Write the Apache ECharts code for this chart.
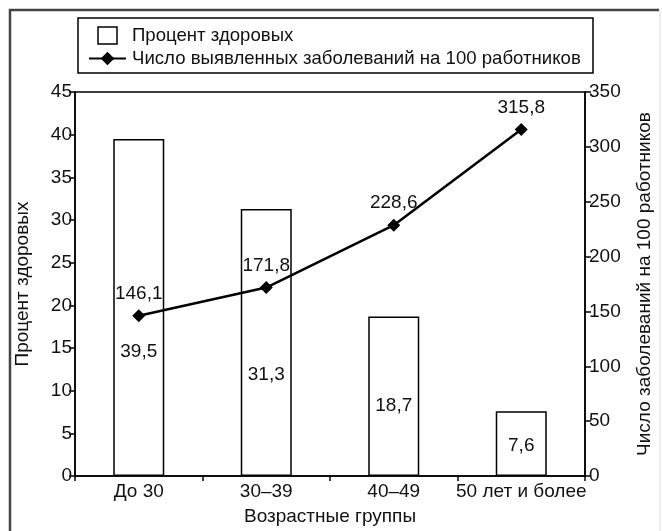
<!DOCTYPE html>
<html>
<head>
<meta charset="utf-8">
<script src="https://cdn.jsdelivr.net/npm/echarts@6/dist/echarts.min.js"></script>
<style>
  html, body { margin: 0; padding: 0; background: #fff; }
  #chart { width: 662px; height: 531px; }
</style>
</head>
<body>
<div id="chart"></div>
<script>
// Age groups and the two measured indicators
const ageGroups = ['До 30', '30–39', '40–49', '50 лет и более'];
const healthyShare = [39.5, 31.3, 18.7, 7.6];          // % healthy (left axis)
const diseasesPer100 = [146.1, 171.8, 228.6, 315.8];   // cases per 100 workers (right axis)

const barName = 'Процент здоровых';
const lineName = 'Число выявленных заболеваний на 100 работников';
const xName = 'Возрастные группы';
const leftName = 'Процент здоровых';
const rightName = 'Число заболеваний на 100 работников';

// vertical placement of the value labels inside each bar (share of bar height)
const barLabelY = ['63%', '62%', '56%', '54%'];

const FONT = '"Liberation Sans", Arial, sans-serif';
const FS = 19;
const INK = '#111';
const fmt = v => v.toFixed(1).replace('.', ',');

const chart = echarts.init(document.getElementById('chart'), null, { renderer: 'canvas' });

const axisCommon = {
  axisLine: { show: true, lineStyle: { color: '#000', width: 1.5 } },
  axisTick: { show: true, inside: false, length: 6, lineStyle: { color: '#000', width: 1.5 } },
  axisLabel: { color: INK, fontFamily: FONT, fontSize: FS, margin: 3 },
  splitLine: { show: false },
  nameTextStyle: { color: INK, fontFamily: FONT, fontSize: FS }
};

chart.setOption({
  animation: false,
  backgroundColor: '#fff',
  grid: {
    left: 75, right: 77, top: 92, bottom: 53,
    show: true, borderColor: '#000', borderWidth: 1.5, backgroundColor: 'transparent'
  },
  graphic: [
    // outer frame (left and top edges drawn strong, right edge faint)
    { type: 'polyline', z: 100, shape: { points: [[10, 531], [10, 10], [659, 10]] },
      style: { stroke: '#444', lineWidth: 2.5, fill: null } },
    { type: 'line', z: 100, shape: { x1: 660, y1: 10, x2: 660, y2: 531 },
      style: { stroke: '#ddd', lineWidth: 1 } },
    // legend box
    { type: 'rect', z: 100, shape: { x: 78, y: 18, width: 515, height: 55 },
      style: { stroke: '#000', lineWidth: 1.5, fill: null } }
  ],
  legend: {
    orient: 'vertical',
    left: 88, top: 26,
    itemWidth: 37, itemHeight: 17, itemGap: 4,
    padding: 0,
    selectedMode: false,
    textStyle: { color: INK, fontFamily: FONT, fontSize: 18.6, lineHeight: 18, padding: [0, 0, 0, 1] },
    data: [
      { name: barName, icon: 'path://M0,0M37,17M9,0H28V17H9Z',
        itemStyle: { color: '#fff', borderColor: '#000', borderWidth: 1.5 } },
      { name: lineName }
    ]
  },
  xAxis: Object.assign({}, axisCommon, {
    type: 'category',
    data: ageGroups,
    boundaryGap: true,
    axisTick: { show: true, alignWithLabel: false, length: 5, lineStyle: { color: '#000', width: 1.5 } },
    axisLabel: { color: INK, fontFamily: FONT, fontSize: FS, margin: 6, interval: 0 },
    name: xName,
    nameLocation: 'middle',
    nameGap: 31
  }),
  yAxis: [
    Object.assign({}, axisCommon, {
      type: 'value', min: 0, max: 45, interval: 5,
      name: leftName, nameLocation: 'middle', nameGap: 43, nameRotate: 90
    }),
    Object.assign({}, axisCommon, {
      type: 'value', min: 0, max: 350, interval: 50, position: 'right',
      axisLabel: { color: INK, fontFamily: FONT, fontSize: FS, margin: 4 },
      name: rightName, nameLocation: 'middle', nameGap: 50, nameRotate: 90
    })
  ],
  series: [
    {
      name: barName,
      type: 'bar',
      yAxisIndex: 0,
      barWidth: 51,
      itemStyle: { color: '#fff', borderColor: '#000', borderWidth: 1.5 },
      data: healthyShare.map((v, i) => ({
        value: v,
        label: { position: ['50%', barLabelY[i]] }
      })),
      label: {
        show: true, align: 'center', verticalAlign: 'middle',
        color: INK, fontFamily: FONT, fontSize: FS,
        formatter: p => fmt(p.value)
      },
      z: 2
    },
    {
      name: lineName,
      type: 'line',
      yAxisIndex: 1,
      data: diseasesPer100,
      symbol: 'diamond',
      symbolSize: 13,
      lineStyle: { color: '#000', width: 2.5 },
      itemStyle: { color: '#000' },
      label: {
        show: true, position: 'top', distance: 6,
        color: INK, fontFamily: FONT, fontSize: FS,
        formatter: p => fmt(p.value)
      },
      z: 5
    }
  ]
});
</script>
</body>
</html>
